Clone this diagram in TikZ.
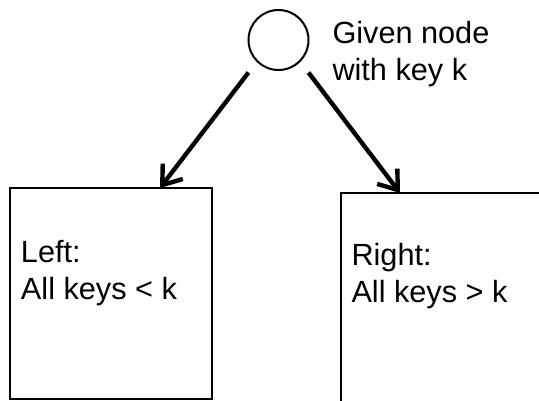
\documentclass[tikz,border=0pt]{standalone}
\usepackage{fontspec}
\setmainfont{Liberation Sans}
\usetikzlibrary{arrows.meta}

\tikzset{every picture/.style={line width=0.75pt}}
\tikzset{
  keybox/.style={draw, rectangle, line width=1.9pt, inner sep=0pt},
  treenode/.style={draw, circle, line width=1.5pt, inner sep=0pt, minimum size=45pt},
  lbl/.style={anchor=base west, align=left, inner sep=0pt, font=\fontsize{23}{27.5}\selectfont},
  childarrow/.style={line width=3.3pt, shorten <=10pt, -{Straight Barb[length=13pt,width=19pt,line width=3.3pt]}}
}

\begin{document}
\begin{tikzpicture}[x=0.75pt,y=0.75pt,yscale=-1,xscale=1]
\useasboundingbox (0,0) rectangle (539,400);
\clip (0,0) rectangle (539,400);

%Shape: Circle [id:given]
\node [treenode] (given) at (278.5,40) {};

%Shape: Rectangle [id:leftbox]
\node [keybox, minimum width=151.5pt, minimum height=158.25pt] (leftbox) at (111,293.5) {};
%Shape: Rectangle [id:rightbox]
\node [keybox, minimum width=164.25pt, minimum height=162.75pt] (rightbox) at (450.5,301.5) {};

% Arrow ends
\coordinate (lefttip) at (160,188);
\coordinate (righttip) at (400,193);

%Straight Lines [id:arrows]
\draw [childarrow] (given.225) -- (lefttip);
\draw [childarrow] (given.-45) -- (righttip);

% Text Node
\node [lbl] (givenlbl) at (332,80) {Given node\\with key k};
% Text Node
\node [lbl] (leftlbl) at (20.5,299) {Left:\\All keys < k};
% Text Node
\node [lbl] (rightlbl) at (351,302) {Right:\\All keys > k};

\end{tikzpicture}
\end{document}
